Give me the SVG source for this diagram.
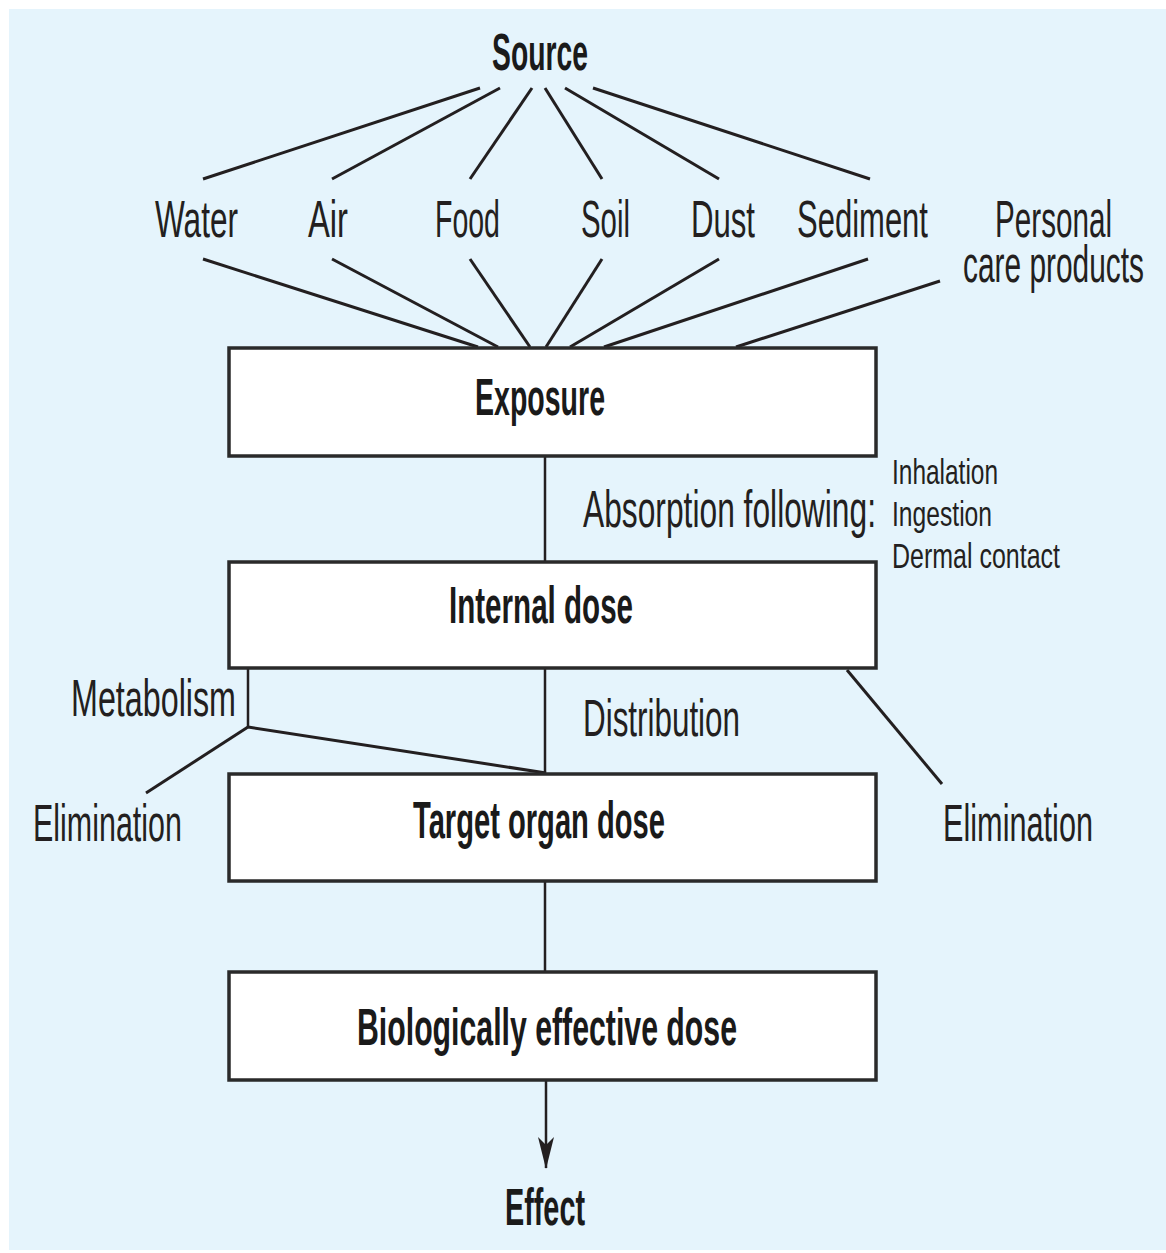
<svg xmlns="http://www.w3.org/2000/svg" width="1166" height="1253" viewBox="0 0 1166 1253">
<style>
.bg{fill:#e5f4fc}
.box{fill:#ffffff;stroke:#2a2a2a;stroke-width:3.5}
.ln{stroke:#231f20;stroke-width:3;fill:none;stroke-linecap:butt}
.vl{stroke:#231f20;stroke-width:2.5;fill:none}
.t{font-family:"Liberation Sans",Arial,sans-serif;font-size:52px;fill:#231f20}
.s{font-family:"Liberation Sans",Arial,sans-serif;font-size:36px;fill:#231f20}
.b{font-family:"Liberation Sans",Arial,sans-serif;font-size:52px;font-weight:bold;fill:#1a1a1a}
</style>
<defs>
<marker id="arr" viewBox="0 0 32 16" refX="31" refY="8" markerWidth="32" markerHeight="16" markerUnits="userSpaceOnUse" orient="auto">
<path d="M0,0 L8,8 L0,16 L32,8 Z" fill="#231f20"/>
</marker>
</defs>
<rect class="bg" x="9" y="9" width="1157" height="1241"/>

<g id="connectors">
<line class="ln" x1="480" y1="88" x2="203" y2="179"/>
<line class="ln" x1="500" y1="88" x2="332" y2="179"/>
<line class="ln" x1="532" y1="88" x2="470" y2="179"/>
<line class="ln" x1="545" y1="88" x2="602" y2="179"/>
<line class="ln" x1="565" y1="88" x2="719" y2="179"/>
<line class="ln" x1="593" y1="88" x2="870" y2="179"/>
<line class="ln" x1="203" y1="259" x2="478" y2="347"/>
<line class="ln" x1="332" y1="259" x2="498" y2="347"/>
<line class="ln" x1="470" y1="259" x2="530" y2="347"/>
<line class="ln" x1="602" y1="259" x2="546" y2="347"/>
<line class="ln" x1="719" y1="259" x2="570" y2="347"/>
<line class="ln" x1="868" y1="259" x2="604" y2="347"/>
<line class="ln" x1="940" y1="281" x2="736" y2="347"/>
<line class="vl" x1="545" y1="457" x2="545" y2="561"/>
<line class="vl" x1="545" y1="669" x2="545" y2="773"/>
<line class="vl" x1="545" y1="882" x2="545" y2="971"/>
<line class="vl" x1="546" y1="1081" x2="546" y2="1168" marker-end="url(#arr)"/>
<line class="vl" x1="248" y1="669" x2="248" y2="727"/>
<line class="ln" x1="248" y1="727" x2="546" y2="773"/>
<line class="ln" x1="248" y1="727" x2="146" y2="793"/>
<line class="ln" x1="847" y1="670" x2="942" y2="784"/>
</g>

<g id="source"><text class="b" transform="translate(492,70) scale(0.6,1)" textLength="160" lengthAdjust="spacingAndGlyphs">Source</text></g>
<g id="water"><text class="t" transform="translate(155,237) scale(0.6,1)" textLength="138.3" lengthAdjust="spacingAndGlyphs">Water</text></g>
<g id="air"><text class="t" transform="translate(308,237) scale(0.6,1)" textLength="66.7" lengthAdjust="spacingAndGlyphs">Air</text></g>
<g id="food"><text class="t" transform="translate(435,237) scale(0.6,1)" textLength="108.3" lengthAdjust="spacingAndGlyphs">Food</text></g>
<g id="soil"><text class="t" transform="translate(581,237) scale(0.6,1)" textLength="81.7" lengthAdjust="spacingAndGlyphs">Soil</text></g>
<g id="dust"><text class="t" transform="translate(691,237) scale(0.6,1)" textLength="106.7" lengthAdjust="spacingAndGlyphs">Dust</text></g>
<g id="sediment"><text class="t" transform="translate(797,237) scale(0.6,1)" textLength="218.3" lengthAdjust="spacingAndGlyphs">Sediment</text></g>
<g id="personal-care">
<text class="t" transform="translate(995,237) scale(0.6,1)" textLength="195" lengthAdjust="spacingAndGlyphs">Personal</text>
<text class="t" transform="translate(963,282) scale(0.6,1)" textLength="301.7" lengthAdjust="spacingAndGlyphs">care products</text>
</g>

<g id="exposure">
<rect class="box" x="229" y="348" width="647" height="108"/>
<text class="b" transform="translate(475,415) scale(0.6,1)" textLength="216.7" lengthAdjust="spacingAndGlyphs">Exposure</text>
</g>
<g id="absorption">
<text class="t" transform="translate(583,527) scale(0.6,1)" textLength="488.3" lengthAdjust="spacingAndGlyphs">Absorption following:</text>
<text class="s" transform="translate(892,484) scale(0.6,1)" textLength="176.7" lengthAdjust="spacingAndGlyphs">Inhalation</text>
<text class="s" transform="translate(892,526) scale(0.6,1)" textLength="166.7" lengthAdjust="spacingAndGlyphs">Ingestion</text>
<text class="s" transform="translate(892,568) scale(0.6,1)" textLength="280" lengthAdjust="spacingAndGlyphs">Dermal contact</text>
</g>
<g id="internal-dose">
<rect class="box" x="229" y="562" width="647" height="106"/>
<text class="b" transform="translate(449,623) scale(0.6,1)" textLength="306.7" lengthAdjust="spacingAndGlyphs">Internal dose</text>
</g>
<g id="metabolism"><text class="t" transform="translate(71,716) scale(0.6,1)" textLength="275" lengthAdjust="spacingAndGlyphs">Metabolism</text></g>
<g id="distribution"><text class="t" transform="translate(583,736) scale(0.6,1)" textLength="261.7" lengthAdjust="spacingAndGlyphs">Distribution</text></g>
<g id="elimination-left"><text class="t" transform="translate(33,841) scale(0.6,1)" textLength="248.3" lengthAdjust="spacingAndGlyphs">Elimination</text></g>
<g id="elimination-right"><text class="t" transform="translate(943,841) scale(0.6,1)" textLength="250" lengthAdjust="spacingAndGlyphs">Elimination</text></g>
<g id="target-organ-dose">
<rect class="box" x="229" y="774" width="647" height="107"/>
<text class="b" transform="translate(413,838) scale(0.6,1)" textLength="420" lengthAdjust="spacingAndGlyphs">Target organ dose</text>
</g>
<g id="biologically-effective-dose">
<rect class="box" x="229" y="972" width="647" height="108"/>
<text class="b" transform="translate(357,1045) scale(0.6,1)" textLength="633.3" lengthAdjust="spacingAndGlyphs">Biologically effective dose</text>
</g>
<g id="effect"><text class="b" transform="translate(505,1225) scale(0.6,1)" textLength="133.3" lengthAdjust="spacingAndGlyphs">Effect</text></g>
</svg>
